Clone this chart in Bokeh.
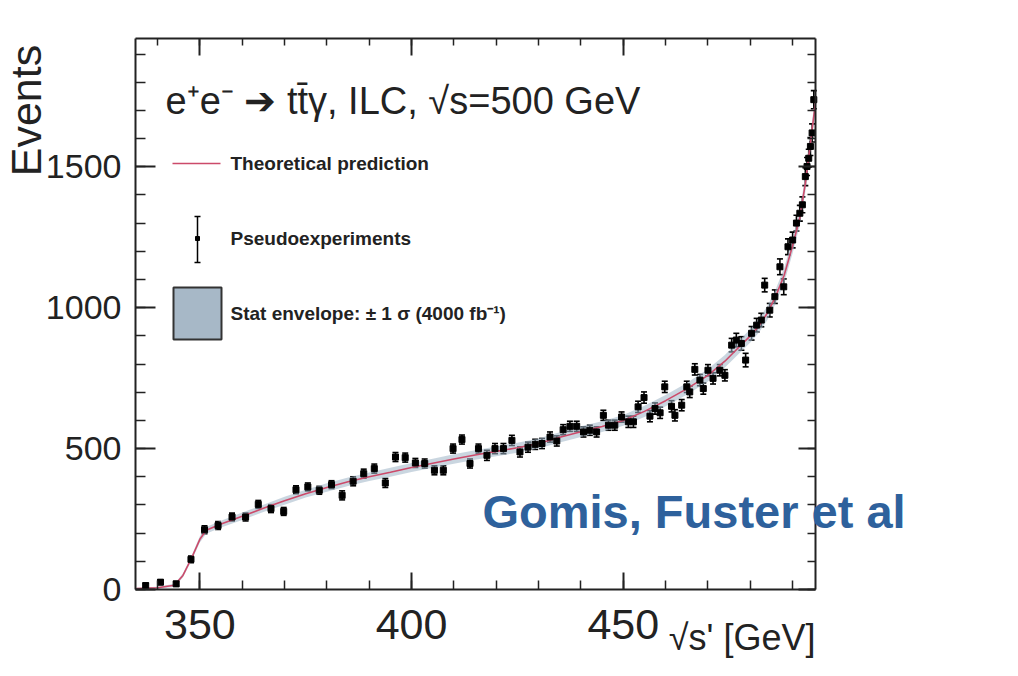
import math
from bokeh.plotting import figure
from bokeh.models import (Range1d, LinearAxis, SingleIntervalTicker, Label,
                          Whisker, TeeHead, ColumnDataSource, CustomJSTickFormatter)
from bokeh.embed import file_html
from bokeh.resources import INLINE

# ---------------- data ----------------
x_pts = [337.2, 340.7, 344.4, 347.9, 351.1, 354.3, 357.6, 360.8, 363.8, 366.8,
         369.8, 372.7, 375.5, 378.2, 381.1, 383.6, 386.2, 388.7, 391.2, 393.8,
         396.2, 398.5, 400.9, 403.1, 405.4, 407.5, 409.8, 411.9, 413.8, 415.8,
         417.8, 419.7, 421.7, 423.7, 425.6, 427.5, 429.2, 430.8, 432.7, 434.3,
         435.8, 437.4, 439.0, 440.6, 442.1, 443.7, 445.3, 446.5, 448.0, 449.6,
         451.2, 452.4, 453.5, 454.9, 456.3, 457.5, 458.7, 459.8, 461.4, 462.2,
         463.8, 465.0, 465.7, 466.9, 468.1, 468.9, 470.0, 471.2, 472.8, 474.0,
         475.6, 476.7, 477.9, 478.9, 480.3, 481.5, 482.6, 483.4, 484.6, 485.8,
         487.0, 487.9, 488.9, 490.0, 490.9, 491.7, 492.3, 493.0, 493.4, 493.8,
         494.2, 494.6, 495.0]
y_pts = [14, 26, 20, 107, 212, 227, 257, 257, 302, 287,
         277, 354, 364, 352, 372, 334, 384, 411, 429, 378,
         470, 468, 449, 447, 423, 423, 500, 532, 447, 500,
         476, 500, 500, 529, 488, 505, 515, 518, 541, 527,
         567, 579, 579, 559, 565, 559, 618, 583, 583, 612,
         595, 595, 648, 681, 615, 642, 627, 719, 650, 618,
         654, 719, 701, 781, 743, 713, 778, 749, 778, 760,
         867, 885, 873, 814, 909, 938, 956, 1080, 991, 1039,
         1145, 1074, 1216, 1240, 1300, 1335, 1365, 1465, 1501, 1530,
         1572, 1620, 1738]
y_err = [8, 8, 8, 12, 14, 14, 14, 14, 14, 14,
         14, 14, 14, 14, 14, 16, 16, 16, 16, 16,
         16, 16, 16, 16, 16, 16, 16, 16, 16, 16,
         18, 18, 18, 18, 18, 18, 18, 18, 18, 18,
         18, 18, 18, 18, 18, 18, 18, 18, 18, 18,
         20, 20, 20, 20, 20, 20, 20, 20, 20, 20,
         20, 20, 20, 20, 20, 20, 20, 20, 20, 20,
         24, 24, 24, 24, 24, 24, 24, 24, 24, 24,
         28, 28, 28, 28, 28, 28, 28, 32, 32, 32,
         32, 32, 32]

th_x = [335, 340, 344, 346, 348, 350, 351.5, 355, 360, 365,
        370, 375, 380, 385, 390, 395, 400, 405, 410, 415,
        420, 425, 430, 435, 440, 445, 450, 455, 460, 465,
        470, 474, 477, 480, 482, 484, 486, 488, 490, 491.7,
        493, 494, 495, 495.4]
th_y = [3, 6, 15, 50, 110, 178, 210, 232, 260, 288,
        315, 340, 362, 382, 400, 416, 433, 448, 463, 477,
        490, 503, 518, 540, 560, 578, 600, 632, 670, 712,
        760, 810, 855, 900, 935, 980, 1040, 1115, 1220, 1320,
        1440, 1560, 1680, 1730]
th_env = [3, 4, 5, 7, 9, 11, 12, 12, 13, 13,
          14, 14, 15, 15, 15, 16, 16, 16, 17, 17,
          17, 18, 18, 18, 19, 19, 19, 20, 20, 21,
          22, 22, 23, 24, 24, 25, 25, 26, 27, 28,
          29, 30, 31, 32]

x_major = 50
y_major = 500
X0, X1 = 334.8, 495.4      # visible x axis extent
Y0, Y1 = 0, 1955           # visible y axis extent

# ---------------- geometry ----------------
W, H = 1002, 660
FL, FR, FT, FB = 135, 815, 38, 589   # axis box in canvas pixels
SX = (X1 - X0) / (FR - FL)
SY = (Y1 - Y0) / (FB - FT)


def dx(px):
    return X0 + (px - FL) * SX


def dy(py):
    return Y1 - (py - FT) * SY


p = figure(width=W, height=H, output_backend="svg", toolbar_location=None,
           x_range=Range1d(dx(0), dx(W)), y_range=Range1d(dy(H), dy(0)),
           min_border=0, x_axis_type=None, y_axis_type=None)
p.grid.visible = False
p.outline_line_color = None
p.background_fill_color = "white"
p.border_fill_color = "white"

FONT = "Liberation Sans"
AX = "#222222"
blank = CustomJSTickFormatter(code="return ''")


def make_axis(loc, bounds, interval, tin, min_in, labels, size="32px", standoff=14):
    ax = LinearAxis(ticker=SingleIntervalTicker(interval=interval, num_minor_ticks=5),
                    fixed_location=loc, bounds=bounds)
    ax.axis_line_color = AX
    ax.axis_line_width = 2
    ax.major_tick_in = tin
    ax.major_tick_out = 0
    ax.minor_tick_in = min_in
    ax.minor_tick_out = 0
    ax.major_tick_line_color = AX
    ax.major_tick_line_width = 2
    ax.minor_tick_line_color = AX
    ax.minor_tick_line_width = 1.5
    if labels:
        ax.major_label_text_font = FONT
        ax.major_label_text_font_size = size
        ax.major_label_text_color = AX
        ax.major_label_standoff = standoff
    else:
        ax.formatter = blank
    return ax


p.add_layout(make_axis(Y0, (X0, X1), x_major, 17, 9, True, "43px", 20), "below")
p.add_layout(make_axis(Y1, (X0, X1), x_major, 17, 7, False), "above")
p.add_layout(make_axis(X0, (Y0, Y1), y_major, 20, 10, True, "34px", 14), "left")
p.add_layout(make_axis(X1, (Y0, Y1), y_major, 17, 8, False), "right")

# ---------------- stat envelope + theory ----------------
lower = [a - b for a, b in zip(th_y, th_env)]
upper = [a + b for a, b in zip(th_y, th_env)]
p.varea(x=th_x, y1=lower, y2=upper, fill_color="#9fb4c6", fill_alpha=0.55)
p.line(th_x, th_y, line_color="#cc4a6a", line_width=1.6)

# ---------------- pseudo-experiments ----------------
src = ColumnDataSource(dict(x=x_pts, y=y_pts,
                            lo=[a - e for a, e in zip(y_pts, y_err)],
                            hi=[a + e for a, e in zip(y_pts, y_err)]))
wh = Whisker(source=src, base="x", lower="lo", upper="hi", dimension="height",
             line_color="black", line_width=1.6,
             upper_head=TeeHead(size=6, line_color="black", line_width=1.6),
             lower_head=TeeHead(size=6, line_color="black", line_width=1.6))
p.add_layout(wh)
p.scatter("x", "y", source=src, marker="square", size=6, color="black")

# ---------------- legend (drawn by hand) ----------------
p.segment(x0=[dx(172)], y0=[dy(163)], x1=[dx(220)], y1=[dy(163)],
          line_color="#cc4a6a", line_width=1.6)
p.segment(x0=[dx(197)], y0=[dy(216)], x1=[dx(197)], y1=[dy(262)],
          line_color="black", line_width=1.5)
p.segment(x0=[dx(194), dx(194)], y0=[dy(216), dy(262)],
          x1=[dx(200), dx(200)], y1=[dy(216), dy(262)],
          line_color="black", line_width=1.5)
p.scatter([dx(197)], [dy(238)], marker="square", size=4, color="black")
p.quad(left=[dx(173)], right=[dx(221)], top=[dy(287)], bottom=[dy(339)],
       fill_color="#a7b8c7", line_color="#333333", line_width=2)

legend_texts = ["Theoretical prediction", "Pseudoexperiments",
                "Stat envelope: \u00b1 1 \u03c3 (4000 fb\u207b\u00b9)"]
legend_y = [163, 238, 313]
for t, yy in zip(legend_texts, legend_y):
    p.add_layout(Label(x=dx(230), y=dy(yy), text=t, text_font=FONT,
                       text_font_size="19px", text_font_style="bold",
                       text_color="#222222", text_baseline="middle",
                       text_align="left"))

# process label
p.add_layout(Label(x=dx(165), y=dy(100),
                   text="e\u207ae\u207b \u2794 tt\u0304\u03b3, ILC, \u221as=500 GeV",
                   text_font=FONT, text_font_size="38px", text_color="#222222",
                   text_baseline="middle", text_align="left"))

# axis titles
p.add_layout(Label(x=dx(25), y=dy(110), text="Events", angle=math.pi / 2,
                   text_font=FONT, text_font_size="43px", text_color="#222222",
                   text_baseline="middle", text_align="center"))
p.add_layout(Label(x=dx(815), y=dy(637), text="\u221as' [GeV]",
                   text_font=FONT, text_font_size="36px", text_color="#222222",
                   text_baseline="middle", text_align="right"))

# overlay credit
p.add_layout(Label(x=dx(482), y=dy(511), text="Gomis, Fuster et al",
                   text_font=FONT, text_font_size="47px", text_font_style="bold",
                   text_color="#2e619c", text_baseline="middle",
                   text_align="left"))

open("out.html", "w").write(file_html(p, INLINE))
